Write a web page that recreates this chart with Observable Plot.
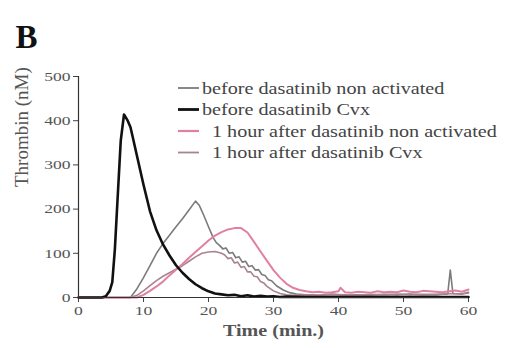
<!DOCTYPE html>
<html>
<head>
<meta charset="utf-8">
<script src="https://cdn.jsdelivr.net/npm/d3@7"></script>
<script src="https://cdn.jsdelivr.net/npm/@observablehq/plot@0.6"></script>
<style>
  html, body { margin: 0; padding: 0; background: #fff; }
  #chart { position: relative; width: 505px; height: 348px; }
  svg { font-family: "Liberation Serif", "DejaVu Serif", serif; }
</style>
</head>
<body>
<div id="chart"></div>
<script>
// ---- data ----
const seriesNames = [
  "before dasatinib non activated",
  "before dasatinib Cvx",
  "1 hour after dasatinib non activated",
  "1 hour after dasatinib Cvx"
];
const seriesColors = ["#7b7b7b", "#111111", "#e0819e", "#a9838f"];
const seriesWidths = [1.6, 2.6, 2.0, 1.6];

const xTicks = [0, 10, 20, 30, 40, 50, 60];
const yTicks = [0, 100, 200, 300, 400, 500];

// before dasatinib non activated (grey)
const grayT = [0, 8, 9, 10, 11, 12, 13, 14, 15, 16, 17, 18, 18.6, 19.3, 20, 20.7, 21.2, 21.7, 22.2, 22.7, 23.2, 23.7, 24.2, 24.7, 25.2, 25.7, 26.2, 26.7, 27.2, 27.7, 28.2, 28.7, 29.2, 29.7, 30.5, 31.5, 32.5, 33.5, 35, 37, 39, 41, 43, 45, 47, 49, 51, 53, 55, 56.8, 57.2, 57.6, 59, 60];
const grayV = [0, 0, 20, 45, 72, 100, 122, 141, 160, 178, 198, 218, 208, 185, 160, 136, 124, 118, 110, 112, 100, 102, 90, 92, 80, 82, 70, 72, 62, 63, 52, 50, 40, 38, 26, 17, 11, 8, 6, 5, 7, 5, 6, 5, 7, 6, 8, 6, 7, 8, 62, 9, 8, 12];

// before dasatinib Cvx (black)
const blackT = [0, 3.6, 4.2, 4.8, 5.2, 5.6, 6.0, 6.5, 7.0, 7.5, 8, 9, 10, 11, 12, 13, 14, 15, 16, 17, 18, 19, 20, 21, 22, 23, 24, 25, 26, 27, 28, 29, 30, 31, 32, 35, 40, 50, 60];
const blackV = [0, 0, 3, 15, 35, 110, 220, 355, 414, 402, 385, 320, 255, 195, 152, 120, 95, 73, 56, 42, 30, 21, 14, 9, 7, 5, 6, 3, 5, 2, 4, 2, 3, 1, 2, 1, 1, 1, 1];

// 1 hour after dasatinib non activated (pink)
const pinkT = [0, 9, 10, 11, 12, 13, 14, 15, 16, 17, 18, 19, 20, 21, 22, 23, 24, 25, 26, 27, 28, 29, 30, 31, 32, 33, 34, 35, 36, 37, 38, 39, 40, 40.3, 41, 42, 43, 44, 45, 46, 47, 48, 49, 50, 51, 52, 53, 54, 55, 56, 57, 58, 59, 60];
const pinkV = [0, 0, 6, 15, 25, 36, 50, 63, 76, 90, 103, 116, 129, 140, 148, 154, 157, 157, 147, 126, 104, 83, 62, 45, 31, 22, 17, 14, 12, 13, 11, 12, 14, 22, 12, 11, 13, 12, 11, 14, 12, 13, 12, 16, 13, 12, 15, 14, 13, 12, 14, 16, 13, 18];

// 1 hour after dasatinib Cvx (mauve)
const mauveT = [0, 8, 9, 10, 11, 12, 13, 14, 15, 16, 17, 18, 19, 20, 21, 22, 22.5, 23, 23.5, 24, 24.5, 25, 25.5, 26, 26.5, 27, 27.5, 28, 28.5, 29, 30, 31, 32, 33, 35, 37, 39, 41, 43, 45, 47, 49, 51, 53, 55, 57, 59, 60];
const mauveV = [0, 0, 5, 15, 27, 38, 48, 56, 64, 72, 82, 92, 100, 103, 104, 100, 96, 88, 90, 78, 80, 68, 70, 58, 58, 48, 47, 36, 33, 25, 15, 9, 6, 5, 6, 5, 7, 6, 5, 7, 6, 8, 6, 7, 6, 9, 8, 10];

// ---- build table ----
const series = [
  {name: seriesNames[0], t: grayT, v: grayV},
  {name: seriesNames[1], t: blackT, v: blackV},
  {name: seriesNames[2], t: pinkT, v: pinkV},
  {name: seriesNames[3], t: mauveT, v: mauveV}
];
const drawOrder = [0, 3, 2, 1];

const W = 505, H = 348;
const plot = Plot.plot({
  width: W,
  height: H,
  marginLeft: 78,
  marginRight: 37,
  marginTop: 76,
  marginBottom: 51,
  style: {fontFamily: "'Liberation Serif', serif", background: "#fff"},
  x: {domain: [0, 60], ticks: xTicks},
  y: {domain: [0, 500], ticks: yTicks},
  marks: [
    Plot.axisX({ticks: xTicks, tickSize: 5, tickPadding: 3, fontSize: 13.5, label: null, color: "#555", stroke: "#444", className: "tx"}),
    Plot.axisY({ticks: yTicks, tickSize: 5, tickPadding: 3, fontSize: 13.5, label: null, color: "#555", stroke: "#444", className: "ty"}),
    ...drawOrder.map(i => Plot.line(
      series[i].t.map((t, k) => ({t, v: series[i].v[k]})),
      {x: "t", y: "v", stroke: seriesColors[i], strokeWidth: seriesWidths[i], curve: "linear", strokeLinejoin: "round"}
    )),
    Plot.ruleX([0], {stroke: "#333", strokeWidth: 1.2}),
    Plot.ruleY([0], {stroke: "#333", strokeWidth: 1.2}),
    Plot.text(["Thrombin (nM)"], {frameAnchor: "left", rotate: -90, dx: -57, fontSize: 19, fill: "#555"}),
    Plot.text(["Time (min.)"], {frameAnchor: "bottom", dy: 38, fontSize: 17, fontWeight: "bold", fill: "#555", className: "xlab"}),
    Plot.text(["B"], {frameAnchor: "top-left", dx: -52, dy: -52, fontSize: 33, fontWeight: "bold", fill: "#111", textAnchor: "middle"})
  ]
});
document.getElementById("chart").appendChild(plot);

// horizontal stretch of text (the reference type is set wide)
function stretch(sel, f) {
  sel.each(function() {
    const w = this.getComputedTextLength();
    if (w > 0) {
      this.setAttribute("textLength", (w * f).toFixed(1));
      this.setAttribute("lengthAdjust", "spacingAndGlyphs");
    }
  });
}
const svg = d3.select(plot);
stretch(svg.selectAll("g.tx text, g.ty text"), 1.3);
stretch(svg.selectAll("g.xlab text"), 1.18);

// ---- legend ----
const lg = svg.append("g").attr("text-anchor", "start");
const rowY = [88, 109.5, 131, 152.5];
const textX = [202, 202, 212, 212];
seriesNames.forEach((name, i) => {
  lg.append("line")
    .attr("x1", 178).attr("x2", 199)
    .attr("y1", rowY[i]).attr("y2", rowY[i])
    .attr("stroke", seriesColors[i]).attr("stroke-width", seriesWidths[i] + 0.2);
  lg.append("text")
    .attr("x", textX[i]).attr("y", rowY[i]).attr("dy", "0.35em")
    .attr("text-anchor", "start")
    .attr("font-size", 16).attr("fill", "#444")
    .attr("font-family", "'Liberation Serif', serif")
    .text(name);
});
stretch(lg.selectAll("text"), 1.26);
</script>
</body>
</html>
